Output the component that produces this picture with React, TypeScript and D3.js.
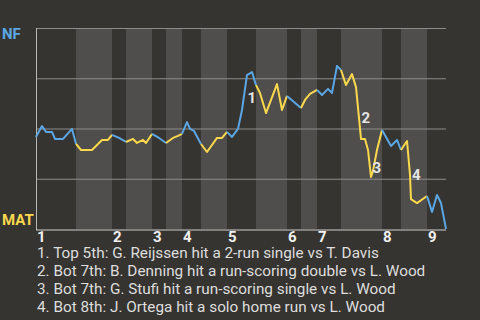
import React from 'react';
import * as d3 from 'd3';

// Game progress (0-100) at each event and NF win probability (%)
const progress = [0, 1.46, 2.44, 3.9, 4.63, 6.59, 8.78, 9.76, 10.98, 13.66, 16.1, 17.56, 18.54, 20.24, 21.95, 23.66, 24.63, 26.1, 26.83, 28.29, 30.0, 31.71, 33.41, 34.63, 35.61, 36.83, 37.56, 38.54, 40.24, 41.71, 44.15, 45.37, 46.59, 47.8, 49.27, 50.24, 51.46, 52.68, 53.66, 54.63, 56.1, 58.78, 60.0, 61.22, 64.63, 65.61, 66.83, 68.54, 69.76, 71.22, 72.2, 73.41, 74.39, 75.61, 77.07, 78.05, 79.27, 80.24, 80.98, 81.71, 82.2, 83.17, 84.39, 86.59, 88.05, 89.02, 90.49, 91.22, 91.46, 92.93, 95.37, 96.59, 97.8, 98.78, 100];
const nfWinPct = [45.8, 51.2, 48.3, 48.3, 44.8, 44.8, 49.8, 42.3, 39.3, 39.3, 44.3, 44.3, 46.8, 45.3, 43.3, 44.8, 42.8, 44.3, 42.8, 47.3, 45.3, 42.8, 45.3, 46.3, 47.3, 53.2, 49.8, 48.8, 42.3, 38.3, 45.3, 45.3, 48.3, 45.8, 49.8, 59.2, 76.6, 78.1, 71.6, 67.7, 57.7, 72.1, 59.2, 66.2, 60.2, 64.2, 67.2, 69.2, 66.7, 69.7, 67.7, 81.1, 79.1, 71.6, 77.1, 70.6, 44.8, 44.8, 39.3, 25.9, 28.9, 39.3, 49.3, 41.3, 44.3, 39.3, 43.8, 26.9, 14.9, 12.9, 16.4, 8.5, 16.9, 12.9, 0];

// Half-inning boundaries (game progress)
const halfInningBounds = [0, 9.76, 18.54, 21.95, 28.29, 31.71, 35.61, 40.24, 46.59, 53.66, 61.22, 64.63, 68.54, 74.39, 84.39, 89.02, 95.37, 100];
const inningLabels = ['1', '2', '3', '4', '5', '6', '7', '8', '9'];

const gridValues = [25, 50, 75, 100];

const awayTeam = 'NF';
const homeTeam = 'MAT';

// Key events: start and end event index of the swing
const noteFrom = [35, 55, 58, 66];
const noteTo = [36, 56, 59, 68];
const noteTexts = [
  '1. Top 5th: G. Reijssen hit a 2-run single vs T. Davis',
  '2. Bot 7th: B. Denning hit a run-scoring double vs L. Wood',
  '3. Bot 7th: G. Stufi hit a run-scoring single vs L. Wood',
  '4. Bot 8th: J. Ortega hit a solo home run vs L. Wood',
];

const W = 480;
const H = 320;
const BG = '#363430';
const BAND = '#4f4e4c';
const BLUE = '#5ba6e4';
const YELLOW = '#fbd84c';
const FONT = 'Roboto, "Noto Sans", sans-serif';

export default function App() {
  const x = d3.scaleLinear().domain([0, 100]).range([36, 446]);
  const y = d3.scaleLinear().domain([0, 100]).range([229, 28]);

  const pts = progress.map((p, i) => ({ p, v: nfWinPct[i], i }));
  const line = d3
    .line<{ p: number; v: number }>()
    .x((d) => x(d.p))
    .y((d) => y(d.v));

  const halves = d3.range(halfInningBounds.length - 1).map((k) => ({
    k,
    a: halfInningBounds[k],
    b: halfInningBounds[k + 1],
  }));

  return (
    <svg
      width={W}
      height={H}
      style={{ position: 'absolute', left: 0, top: 0, background: BG }}
      fontFamily={FONT}
    >
      <rect x={0} y={0} width={W} height={H} fill={BG} />
      {halves
        .filter((h) => h.k % 2 === 1)
        .map((h) => (
          <rect
            key={'band' + h.k}
            x={x(h.a)}
            y={y(100)}
            width={x(h.b) - x(h.a)}
            height={y(0) - y(100)}
            fill={BAND}
          />
        ))}
      {gridValues.map((g) => (
        <line
          key={'g' + g}
          x1={x(0)}
          x2={x(100)}
          y1={y(g) + 0.5}
          y2={y(g) + 0.5}
          stroke="#8d8c89"
          strokeWidth={1}
        />
      ))}
      <line x1={x(0) + 0.5} x2={x(0) + 0.5} y1={y(100)} y2={y(0) + 1} stroke="#b9b8b5" strokeWidth={1} />
      <line x1={x(0)} x2={x(100)} y1={y(0) + 1} y2={y(0) + 1} stroke="#d0cfcc" strokeWidth={1} />

      {halves.map((h) => {
        const seg = pts.filter((d) => d.p >= h.a - 0.001 && d.p <= h.b + 0.001);
        return (
          <path
            key={'l' + h.k}
            d={line(seg) || ''}
            fill="none"
            stroke={h.k % 2 === 0 ? BLUE : YELLOW}
            strokeWidth={2}
            strokeLinejoin="round"
          />
        );
      })}

      {noteFrom.map((f, i) => {
        const t = noteTo[i];
        const mx = (x(progress[f]) + x(progress[t])) / 2;
        const my = (y(nfWinPct[f]) + y(nfWinPct[t])) / 2;
        return (
          <text
            key={'n' + i}
            x={mx + 3}
            y={my + 10}
            fill="#e4e4e4"
            fontSize={15}
            fontWeight="bold"
          >
            {String(i + 1)}
          </text>
        );
      })}

      <text x={2} y={39} fill={BLUE} fontSize={15} fontWeight="bold">
        {awayTeam}
      </text>
      <text x={2} y={225} fill={YELLOW} fontSize={15} fontWeight="bold">
        {homeTeam}
      </text>

      {inningLabels.map((lab, i) => (
        <text
          key={'i' + lab}
          x={x(halfInningBounds[i * 2]) + 1}
          y={242}
          fill="#f0f0f0"
          fontSize={15}
          fontWeight="bold"
        >
          {lab}
        </text>
      ))}

      {noteTexts.map((t, i) => (
        <text key={'t' + i} x={37} y={258 + i * 18} fill="#dedede" fontSize={15.3}>
          {t}
        </text>
      ))}
    </svg>
  );
}
